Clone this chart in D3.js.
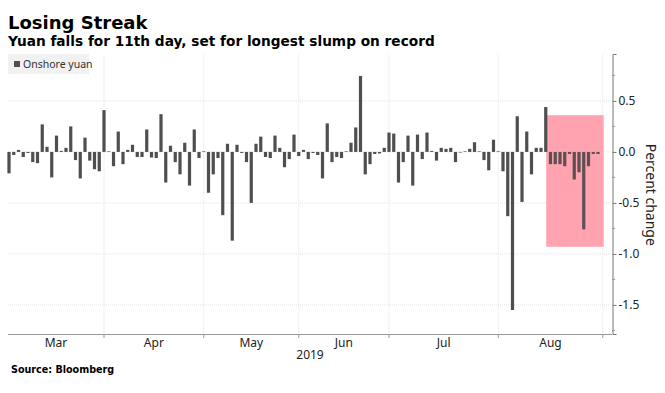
<!DOCTYPE html>
<html>
<head>
<meta charset="utf-8">
<script src="https://cdn.jsdelivr.net/npm/d3@7"></script>
<style>
  body { margin: 0; background: #fff; }
  svg { display: block; }
</style>
</head>
<body>
<div id="chart"></div>
<script>
// daily % change of onshore yuan, one array per month (trading days)
const months = ["Mar", "Apr", "May", "Jun", "Jul", "Aug"];
const marValues = [-0.21, -0.03, 0.02, -0.05, -0.01, -0.10, -0.11, 0.27, 0.05, -0.25, 0.16, 0.01, 0.04, 0.25, -0.08, -0.26, 0.14, -0.085, -0.17, -0.19];
const aprValues = [0.41, 0.005, -0.14, 0.20, -0.12, 0.02, 0.07, -0.05, -0.05, 0.22, -0.055, -0.06, 0.37, -0.30, 0.06, -0.10, -0.22, 0.09, -0.33, 0.22, -0.06];
const mayValues = [0.005, -0.40, -0.22, -0.06, -0.62, 0.08, -0.87, 0.07, -0.01, -0.10, -0.50, 0.08, 0.15, -0.05, -0.06, 0.16, 0.04, -0.15, -0.07, 0.17];
const junValues = [-0.04, 0.02, -0.07, -0.01, -0.03, -0.26, 0.28, -0.10, -0.05, -0.06, 0.005, 0.09, 0.24, 0.745, -0.22, -0.12, -0.02, -0.015, 0.04];
const julValues = [0.19, 0.18, -0.30, -0.10, 0.16, -0.33, 0.17, -0.07, 0.19, 0.01, -0.085, 0.04, 0.03, 0.04, -0.10, -0.005, 0.005, 0.03, 0.095, 0.005, -0.08, -0.18, 0.12];
const augValues = [0.005, -0.19, -0.63, -1.55, 0.35, -0.49, 0.20, -0.22, 0.04, 0.04, 0.44, -0.12, -0.12, -0.12, -0.14, -0.02, -0.27, -0.20, -0.76, -0.14, -0.02, -0.02];
const yTicks = [0.5, 0, -0.5, -1, -1.5];
const streakDays = 11;
const streakRange = [0.36, -0.93];

const width = 665, height = 393;
const margin = { top: 54, right: 53, bottom: 59, left: 8 };
const plotR = width - margin.right, plotB = height - margin.bottom;

const monthData = [marValues, aprValues, mayValues, junValues, julValues, augValues];
const values = monthData.flat();
// index of first trading day of each month
const monthStart = [];
let acc = 0;
monthData.forEach(m => { monthStart.push(acc); acc += m.length; });
const n = values.length;

const svg = d3.select("#chart").append("svg")
    .attr("width", width)
    .attr("height", height);

const x = d3.scaleLinear().domain([0, n - 1]).range([9, 598]);
const y = d3.scaleLinear().domain([-1.785, 0.96]).range([plotB, margin.top]);

// gridlines
const grid = svg.append("g").attr("stroke", "#e3e3e3").attr("stroke-dasharray", "1,1");
grid.selectAll("line.h")
    .data(yTicks)
    .join("line")
    .attr("x1", margin.left).attr("x2", plotR)
    .attr("y1", d => y(d)).attr("y2", d => y(d));
const vTicks = monthStart.slice(1).concat([n]);
grid.selectAll("line.v")
    .data(vTicks)
    .join("line")
    .attr("x1", d => x(d)).attr("x2", d => x(d))
    .attr("y1", margin.top).attr("y2", plotB);

// streak highlight
const s0 = n - streakDays;
svg.append("rect")
    .attr("x", x(s0 - 0.9))
    .attr("width", x(n + 0.2) - x(s0 - 0.9))
    .attr("y", y(streakRange[0]))
    .attr("height", y(streakRange[1]) - y(streakRange[0]))
    .attr("fill", "#ffa3b1");

// bars
const bw = 3.2;
svg.append("g")
    .selectAll("rect")
    .data(values)
    .join("rect")
    .attr("x", (d, i) => x(i) - bw / 2)
    .attr("width", bw)
    .attr("y", d => y(Math.max(0, d)))
    .attr("height", d => Math.max(0.6, Math.abs(y(d) - y(0))))
    .attr("fill", (d, i) => i >= s0 ? "#5e4f52" : "#4f4f4f");

// bottom axis
svg.append("line")
    .attr("x1", margin.left).attr("x2", plotR)
    .attr("y1", plotB + 0.5).attr("y2", plotB + 0.5)
    .attr("stroke", "#9a9a9a").attr("stroke-width", 1.2);
svg.append("g").selectAll("line")
    .data(vTicks)
    .join("line")
    .attr("x1", d => x(d)).attr("x2", d => x(d))
    .attr("y1", plotB).attr("y2", plotB + 4)
    .attr("stroke", "#9a9a9a");

const monthEdges = [margin.left].concat(vTicks.map(d => x(d)));
svg.append("g").selectAll("text")
    .data(months)
    .join("text")
    .attr("x", (d, i) => (monthEdges[i] + monthEdges[i + 1]) / 2)
    .attr("y", plotB + 13)
    .attr("text-anchor", "middle")
    .style("font-family", "'Noto Sans', sans-serif")
    .style("font-size", "12px")
    .style("fill", "#222")
    .text(d => d);
svg.append("text")
    .attr("x", 310).attr("y", plotB + 25)
    .attr("text-anchor", "middle")
    .style("font-family", "'Noto Sans', sans-serif")
    .style("font-size", "12px")
    .style("fill", "#222")
    .text("2019");

// right axis
const yAxis = d3.axisRight(y).tickValues(yTicks).tickSize(4).tickPadding(2)
    .tickFormat(d => d3.format(".1f")(d).replace("−", "-"));
const ya = svg.append("g")
    .attr("transform", `translate(${plotR + 0.5},0)`)
    .call(yAxis);
ya.select(".domain").attr("stroke", "#777");
ya.selectAll(".tick line").attr("stroke", "#777");
ya.selectAll("text")
    .style("font-family", "'Noto Sans', sans-serif")
    .style("font-size", "12px")
    .style("fill", "#222");
svg.append("g").selectAll("line")
    .data(d3.range(-1.75, 0.9, 0.5))
    .join("line")
    .attr("x1", plotR).attr("x2", plotR + 3)
    .attr("y1", d => y(d)).attr("y2", d => y(d))
    .attr("stroke", "#999");

svg.append("text")
    .attr("transform", `translate(646,${y(-0.42)}) rotate(90)`)
    .attr("text-anchor", "middle")
    .style("font-family", "'Noto Sans', sans-serif")
    .style("font-size", "14px")
    .style("fill", "#222")
    .text("Percent change");

// legend
svg.append("rect")
    .attr("x", 8).attr("y", 54).attr("width", 81).attr("height", 20)
    .attr("fill", "#f1f1f1");
svg.append("rect")
    .attr("x", 14).attr("y", 61).attr("width", 6).attr("height", 6)
    .attr("fill", "#4f4f4f");
svg.append("text")
    .attr("x", 23).attr("y", 68)
    .style("font-family", "'Noto Sans', sans-serif")
    .style("font-size", "10.5px")
    .style("fill", "#333")
    .text("Onshore yuan");

// titles
svg.append("text")
    .attr("x", 8).attr("y", 29)
    .style("font-family", "'DejaVu Sans', sans-serif")
    .style("font-weight", "bold")
    .style("font-size", "18px")
    .style("fill", "#000")
    .text("Losing Streak");
svg.append("text")
    .attr("x", 8).attr("y", 46)
    .style("font-family", "'DejaVu Sans', sans-serif")
    .style("font-weight", "bold")
    .style("font-size", "13.7px")
    .style("fill", "#000")
    .text("Yuan falls for 11th day, set for longest slump on record");
svg.append("text")
    .attr("x", 11).attr("y", 373)
    .style("font-family", "'DejaVu Sans', sans-serif")
    .style("font-weight", "bold")
    .style("font-size", "9.6px")
    .style("fill", "#000")
    .text("Source: Bloomberg");
</script>
</body>
</html>
